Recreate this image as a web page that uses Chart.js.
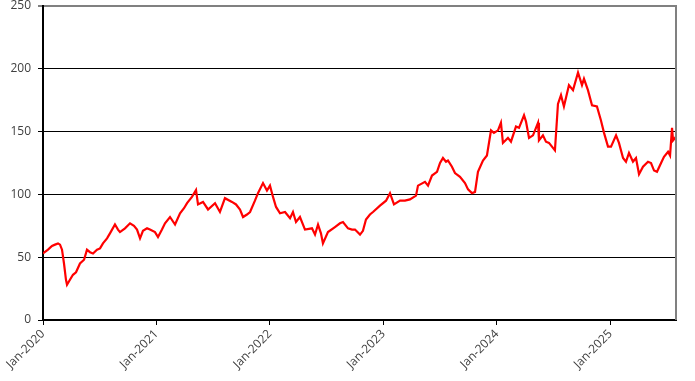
<!DOCTYPE html>
<html>
<head>
<meta charset="utf-8">
<script src="https://cdn.jsdelivr.net/npm/chart.js@4/dist/chart.umd.min.js"></script>
<style>
  html,body{margin:0;padding:0;background:#fff;}
  #wrap{width:695px;height:381px;position:relative;}
</style>
</head>
<body>
<div id="wrap"><canvas id="c" width="695" height="381"></canvas></div>
<script>
// Months elapsed since Jan-2020 (x position of each observation)
const months = [0.0,0.53,0.95,1.27,1.59,1.80,2.01,2.22,2.43,2.54,2.85,3.17,3.49,3.91,4.34,4.65,4.97,5.29,5.71,6.03,6.34,6.77,7.08,7.61,7.93,8.14,8.67,9.20,9.62,9.94,10.26,10.57,11.00,11.31,11.84,12.16,12.58,12.90,13.43,13.96,14.49,14.91,15.23,15.75,16.18,16.39,16.92,17.45,18.19,18.71,19.24,19.98,20.41,20.83,21.15,21.57,21.89,22.41,22.73,23.26,23.68,24.00,24.32,24.64,25.06,25.59,26.12,26.43,26.75,27.17,27.70,28.44,28.76,29.08,29.39,29.60,30.13,30.87,31.40,31.72,32.25,32.67,32.99,33.52,33.83,34.15,34.57,34.89,35.63,36.27,36.69,37.11,37.75,38.27,38.80,39.44,39.65,40.39,40.71,41.13,41.66,41.98,42.29,42.61,42.82,43.24,43.56,44.09,44.62,44.94,45.36,45.68,45.99,46.52,46.94,47.37,47.68,48.11,48.42,48.63,49.16,49.48,50.01,50.33,50.86,51.07,51.39,51.81,52.34,52.44,52.86,53.18,53.50,53.92,54.13,54.45,54.77,55.08,55.61,56.04,56.57,56.99,57.20,57.62,58.05,58.57,58.99,59.32,59.74,60.06,60.59,60.90,61.33,61.64,61.96,62.38,62.70,63.02,63.44,63.97,64.29,64.61,64.92,65.35,65.66,66.09,66.30,66.51,66.62,66.93];
// Series values
const values = [53,56,59,60,61,60,56,45,32,28,32,36,38,45,48,56,54,53,56,57,61,65,69,76,72,70,73,77,75,72,65,71,73,72,70,66,72,77,82,76,85,89,93,98,103.5,92,94,88,93,86,97,94,92,88,82,84,86,95,101,109,103,107,98,90,85,86,81,86,78,82,72,73,68,76,69,61,70,74,77,78,73,72,72,68,71,80,84,86,91,95,101,92,95,95,96,99,107,110,107,115,118,125,129,126,127,122,117,114,109,104,101,102,118,127,131,151,149,151,157,141,145,142,154,153,163,158,145,147,157,143,147,142,141,137,135,172,179,170,187,183,197,187,192,183,171,170,159,149,138,138,147,141,129,126,133,126,129,116,122,126,125,119,118,125,130,134,131,153,143,146];
// Tick labels on the x axis (every 12 months)
const tickLabels = ['Jan-2020','Jan-2021','Jan-2022','Jan-2023','Jan-2024','Jan-2025'];
const yTicks = [0,50,100,150,200,250];

const points = months.map((m,i)=>({x:m,y:values[i]}));

const borderPlugin = {
  id:'rightBorder',
  afterDraw(chart){
    const {ctx, chartArea:a} = chart;
    ctx.save();
    ctx.strokeStyle = '#808080';
    ctx.lineWidth = 2;
    ctx.beginPath();
    ctx.moveTo(a.right, a.top-1);
    ctx.lineTo(a.right, a.bottom);
    ctx.stroke();
    ctx.restore();
  }
};

new Chart(document.getElementById('c'), {
  type:'line',
  data:{datasets:[{
    data:points,
    borderColor:'#ff0000',
    borderWidth:2.2,
    pointRadius:0,
    tension:0,
    fill:false
  }]},
  options:{
    responsive:false,
    animation:false,
    layout:{padding:{top:6,right:19,left:0,bottom:0}},
    plugins:{legend:{display:false},tooltip:{enabled:false}},
    scales:{
      x:{
        type:'linear',
        min:0,
        max:66.93,
        afterBuildTicks(scale){
          scale.ticks = tickLabels.map((t,i)=>({value:i*12}));
        },
        ticks:{
          includeBounds:false,
          autoSkip:false,
          maxRotation:45,
          minRotation:45,
          padding:2,
          color:'#404040',
          font:{family:'"Open Sans"',size:12},
          callback:(v)=>tickLabels[Math.round(v/12)]
        },
        grid:{drawOnChartArea:false,drawTicks:true,tickLength:5,color:'#000',lineWidth:1},
        border:{color:'#000',width:2},
        afterFit(scale){ scale.height = 61; scale.paddingLeft = 0; scale.paddingRight = 0; }
      },
      y:{
        min:0,
        max:250,
        afterBuildTicks(scale){
          scale.ticks = yTicks.map(v=>({value:v}));
        },
        ticks:{
          padding:7,
          color:'#404040',
          font:{family:'"Open Sans"',size:12}
        },
        grid:{
          drawTicks:true,
          tickLength:5,
          color:(ctx)=> (ctx.tick && ctx.tick.value===250) ? '#808080' : '#000',
          lineWidth:(ctx)=> (ctx.tick && ctx.tick.value===250) ? 2 : 1
        },
        border:{color:'#000',width:2},
        afterFit(scale){ scale.width = 43; scale.paddingTop = 0; scale.paddingBottom = 0; }
      }
    }
  },
  plugins:[borderPlugin]
});
</script>
</body>
</html>
